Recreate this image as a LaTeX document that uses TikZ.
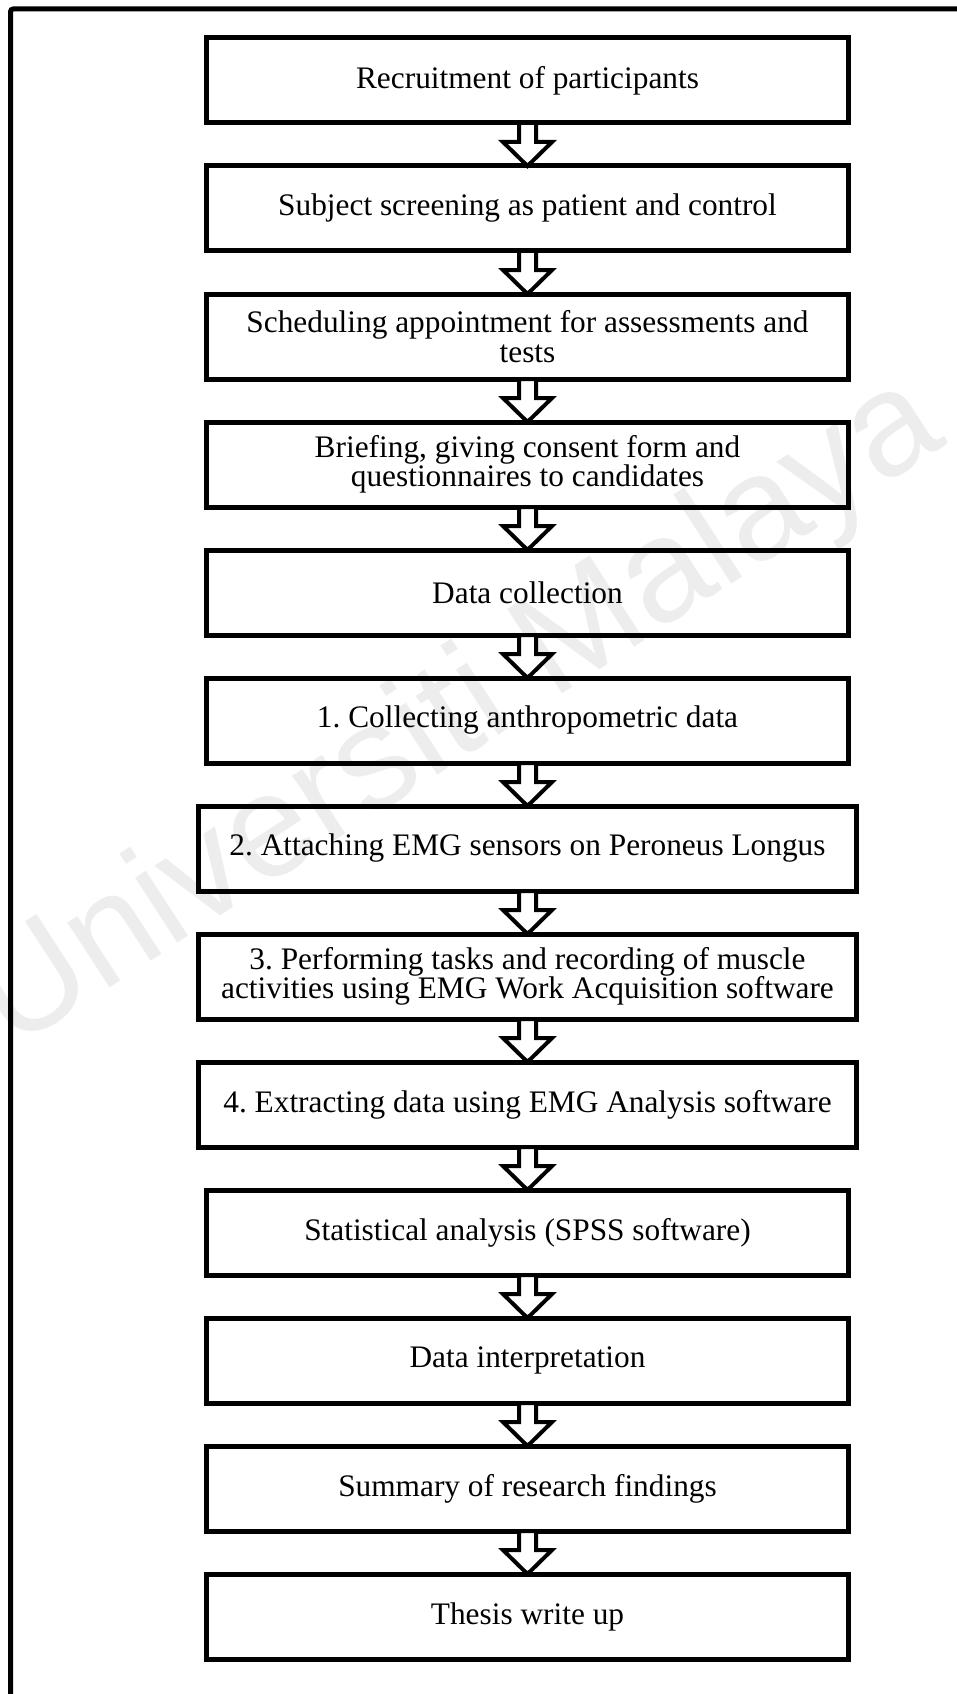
\documentclass[tikz,border=0pt]{standalone}
\usepackage{fontspec}
\setmainfont{Liberation Serif}
\newfontfamily\wmfont{Liberation Sans}
\usetikzlibrary{positioning, calc}
\frenchspacing

\tikzset{
  stepbox/.style={draw, line width=3.75pt, outer sep=0pt, inner xsep=1pt,
    minimum width=482pt, minimum height=63.75pt, align=center,
    font=\fontsize{23.5}{22}\selectfont},
  widebox/.style={stepbox, minimum width=494pt},
  flowarrow/.style={draw, line width=3pt, fill=white, line join=miter},
  frameline/.style={line width=3.75pt, rounded corners=2pt}
}

\begin{document}
\begin{tikzpicture}[x=0.75pt, y=-0.75pt]
    \useasboundingbox (0,0) rectangle (956,1694);
    % watermark
    \node[rotate=33, text=black!7, font=\wmfont\fontsize{110}{110}\selectfont] (wm) at (460,715) {Universiti Malaya};
    % page frame
    \draw[frameline] (10.5,1710) -- (10.5,9) -- (970,9);
    % steps
    \node[stepbox] (b1) at (527.5,80.5) {Recruitment of participants};
    \node[stepbox, below=32.25pt of b1] (b2) {Subject screening as patient and control};
    \node[stepbox, below=32.25pt of b2] (b3) {Scheduling appointment for assessments and\\ tests};
    \node[stepbox, below=32.25pt of b3] (b4) {Briefing, giving consent form and\\ questionnaires to candidates};
    \node[stepbox, below=32.25pt of b4] (b5) {Data collection};
    \node[stepbox, below=32.25pt of b5] (b6) {1. Collecting anthropometric data};
    \node[widebox, below=32.25pt of b6] (b7) {2. Attaching EMG sensors on Peroneus Longus};
    \node[widebox, below=32.25pt of b7] (b8) {3. Performing tasks and recording of muscle\\ activities using EMG Work Acquisition software};
    \node[widebox, below=32.25pt of b8] (b9) {4. Extracting data using EMG Analysis software};
    \node[stepbox, below=32.25pt of b9] (b10) {Statistical analysis (SPSS software)};
    \node[stepbox, below=32.25pt of b10] (b11) {Data interpretation};
    \node[stepbox, below=32.25pt of b11] (b12) {Summary of research findings};
    \node[stepbox, below=32.25pt of b12] (b13) {Thesis write up};
    % block arrows
    \foreach \i [count=\j from 2] in {1,...,12}
      \draw[flowarrow] ($(b\i.south)+(-8.5,0)$) -- ++(0,19) -- ++(-16,0) -- (b\j.north)
        -- ++(24.5,-24) -- ++(-16,0) -- ++(0,-19) -- cycle;
\end{tikzpicture}
\end{document}
